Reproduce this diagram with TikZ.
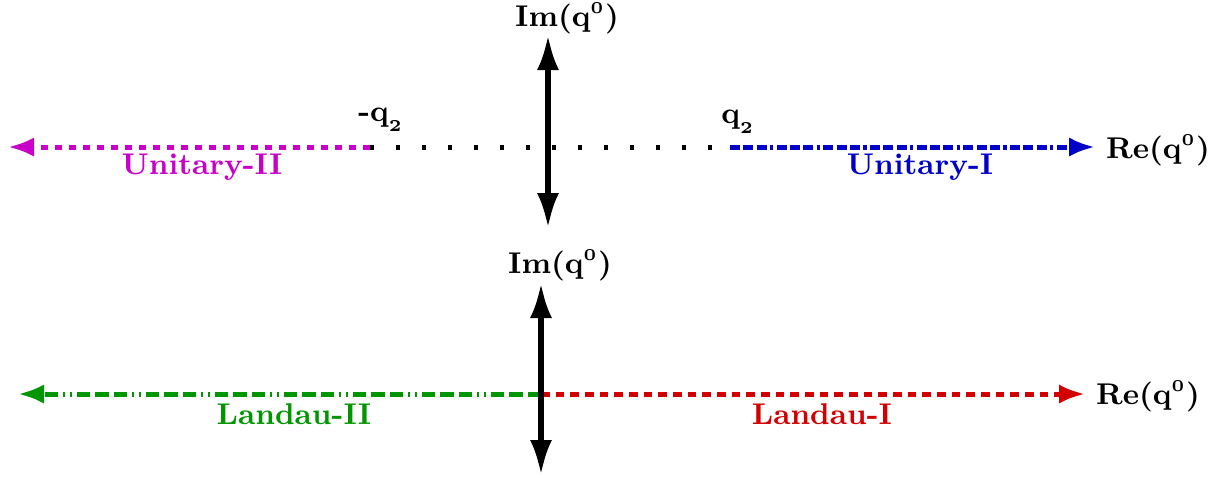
\documentclass[tikz,border=0pt]{standalone}
\usetikzlibrary{arrows.meta}
\definecolor{cmag}{RGB}{200,0,200}
\definecolor{cblue}{RGB}{0,0,200}
\definecolor{cgreen}{RGB}{0,150,0}
\definecolor{cred}{RGB}{210,0,0}
\newcommand{\bsup}{$^{\scriptscriptstyle\mathbf{0}}$}
\newcommand{\bsub}{\raisebox{-3pt}{$\scriptscriptstyle\mathbf{2}$}}
\begin{document}
\begin{tikzpicture}[x=0.3pt,y=-0.3pt,
  vaxis/.style={line width=1.6pt,{Latex[length=10.5pt,width=6.6pt]}-{Latex[length=10.5pt,width=6.6pt]}},
  harrow/.style={line width=1.5pt,-{Latex[length=7.8pt,width=5.8pt]}},
  lbl/.style={font=\small\bfseries,inner sep=0pt},
  ]
\useasboundingbox (0,0) rectangle (1223,477);
% top diagram
\coordinate (c1) at (548,147);
\coordinate (mq) at (370,147);
\coordinate (pq) at (730,147);
\coordinate (lt1) at (8,147);
\coordinate (rt1) at (1095,147);
\coordinate (up1) at (548,35);
\coordinate (dn1) at (548,228);
\draw[line width=1.5pt,dash pattern=on 1.3pt off 6.5pt] (mq) -- (pq);
\draw[harrow,cmag,dash pattern=on 2pt off 2.2pt] (mq) -- (lt1);
\draw[harrow,cblue,dash pattern=on 3pt off 1pt on 3pt off 1pt on 3pt off 1pt on 1pt off 1pt] (pq) -- (rt1);
\draw[vaxis] (dn1) -- (up1);
\node[lbl] (im1) at (567,18) {Im(q\bsup)};
\node[lbl] (re1) at (1158,150) {Re(q\bsup)};
\node[lbl] (mql) at (380,120) {-q\bsub};
\node[lbl] (pql) at (737,122) {q\bsub};
\node[lbl,text=cmag] (u2) at (202,167) {Unitary-II};
\node[lbl,text=cblue] (u1) at (920,167) {Unitary-I};
% bottom diagram
\coordinate (c2) at (541,394);
\coordinate (lt2) at (18,394);
\coordinate (rt2) at (1085,394);
\coordinate (up2) at (541,283);
\coordinate (dn2) at (541,475);
\draw[harrow,cgreen,dash pattern=on 4pt off 1.5pt on 4pt off 1.5pt on 4pt off 1.5pt on 0.6pt off 1.5pt on 0.6pt off 1.5pt] (c2) -- (lt2);
\draw[harrow,cred,dash pattern=on 2.6pt off 1.8pt] (c2) -- (rt2);
\draw[vaxis] (dn2) -- (up2);
\node[lbl] (im2) at (560,265) {Im(q\bsup)};
\node[lbl] (re2) at (1148,396) {Re(q\bsup)};
\node[lbl,text=cgreen] (l2) at (294,414) {Landau-II};
\node[lbl,text=cred] (l1) at (822,414) {Landau-I};
\end{tikzpicture}
\end{document}
